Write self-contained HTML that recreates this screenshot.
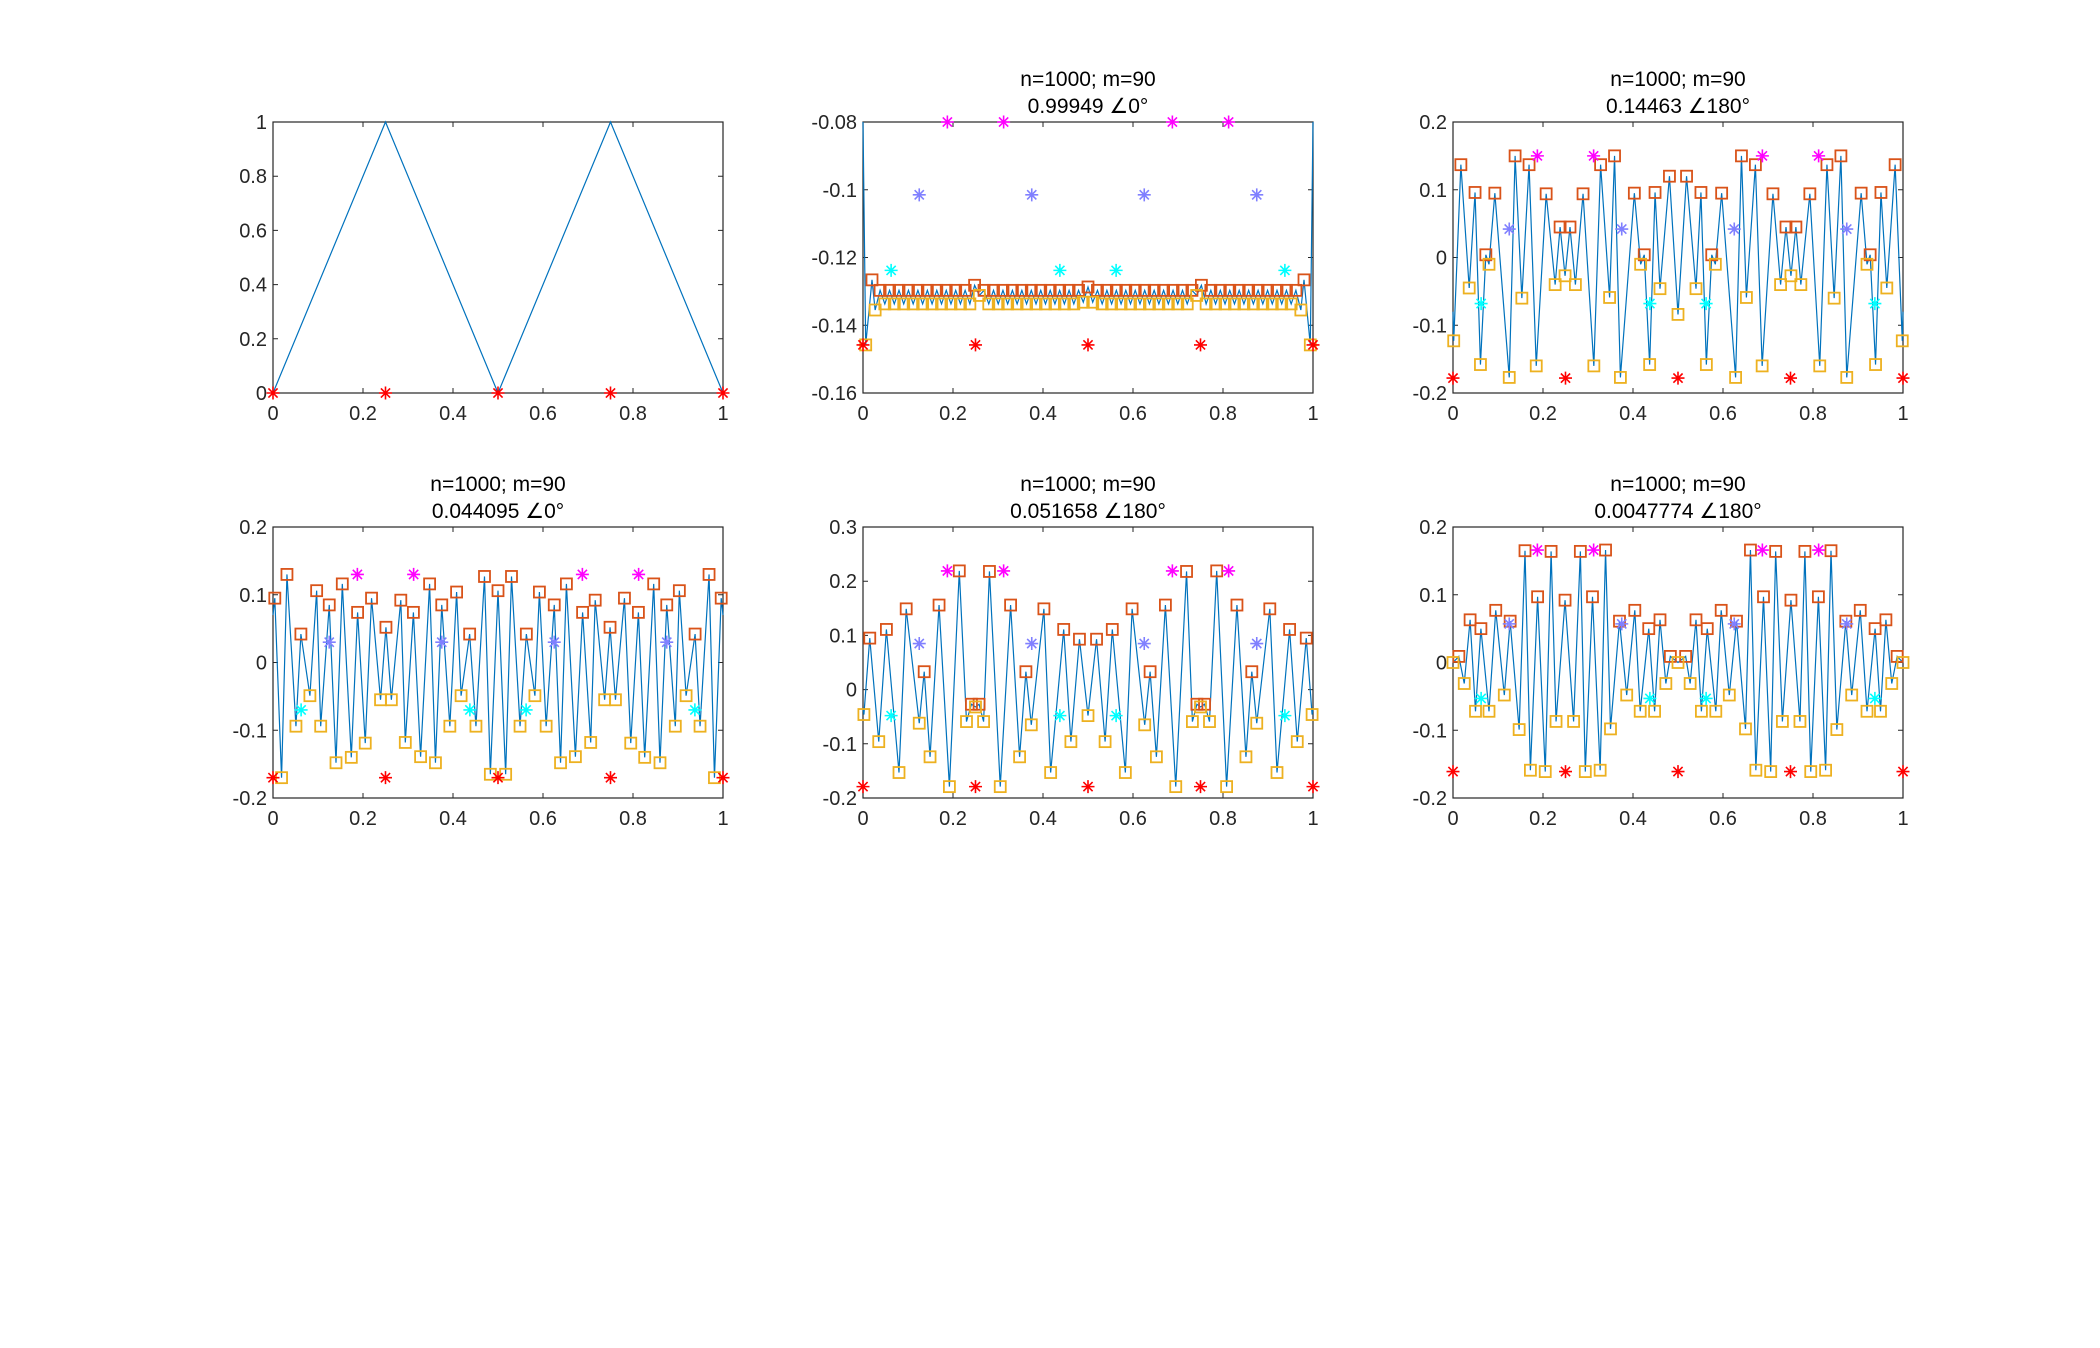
<!DOCTYPE html>
<html><head><meta charset="utf-8"><style>
html,body{margin:0;padding:0;background:#fff;}
svg{display:block;font-family:"Liberation Sans",Arial,sans-serif;}
</style></head><body>
<svg id="fig" width="2100" height="1348" viewBox="0 0 2100 1348" xmlns="http://www.w3.org/2000/svg">
<rect width="2100" height="1348" fill="#fff"/>
</svg>
<script>
// ---- shared star x positions ----
const redX=[0,0.25,0.5,0.75,1];
const magX=[0.1875,0.3125,0.6875,0.8125];
const bluX=[0.125,0.375,0.625,0.875];
const cyaX=[0.0625,0.4375,0.5625,0.9375];
const xTicks=[0,0.2,0.4,0.6,0.8,1];
const xTickLabels=["0","0.2","0.4","0.6","0.8","1"];

// ---- panel 1 ----
const p1LineX=[0,0.25,0.5,0.75,1];
const p1LineY=[0,1,0,1,0];
const p1RedY=0;
const p1YTicks=[0,0.2,0.4,0.6,0.8,1];
const p1YLabels=["0","0.2","0.4","0.6","0.8","1"];

// ---- panel 2 ----
const p2PeakX=[0.02,0.038,0.059,0.080,0.101,0.122,0.143,0.164,0.185,0.206,0.227,0.248,0.269,0.290,0.311,0.332,0.353,0.374,0.395,0.416,0.437,0.458,0.479,0.500,0.521,0.542,0.563,0.584,0.605,0.626,0.647,0.668,0.689,0.710,0.731,0.752,0.773,0.794,0.815,0.836,0.857,0.878,0.899,0.920,0.941,0.962,0.98];
const p2PeakY=[-0.1266,-0.1297,-0.1297,-0.1297,-0.1297,-0.1297,-0.1297,-0.1297,-0.1297,-0.1297,-0.1297,-0.1282,-0.1297,-0.1297,-0.1297,-0.1297,-0.1297,-0.1297,-0.1297,-0.1297,-0.1297,-0.1297,-0.1297,-0.1287,-0.1297,-0.1297,-0.1297,-0.1297,-0.1297,-0.1297,-0.1297,-0.1297,-0.1297,-0.1297,-0.1297,-0.1282,-0.1297,-0.1297,-0.1297,-0.1297,-0.1297,-0.1297,-0.1297,-0.1297,-0.1297,-0.1297,-0.1266];
const p2TroughX=[0.006,0.027,0.0485,0.0695,0.0905,0.1115,0.1325,0.1535,0.1745,0.1955,0.2165,0.2375,0.2585,0.2795,0.3005,0.3215,0.3425,0.3635,0.3845,0.4055,0.4265,0.4475,0.4685,0.4895,0.5105,0.5315,0.5525,0.5735,0.5945,0.6155,0.6365,0.6575,0.6785,0.6995,0.7205,0.7415,0.7625,0.7835,0.8045,0.8255,0.8465,0.8675,0.8885,0.9095,0.9305,0.9515,0.973,0.994];
const p2TroughY=[-0.1458,-0.1355,-0.1337,-0.1337,-0.1337,-0.1337,-0.1337,-0.1337,-0.1337,-0.1337,-0.1337,-0.1337,-0.1312,-0.1337,-0.1337,-0.1337,-0.1337,-0.1337,-0.1337,-0.1337,-0.1337,-0.1337,-0.1337,-0.1332,-0.1332,-0.1337,-0.1337,-0.1337,-0.1337,-0.1337,-0.1337,-0.1337,-0.1337,-0.1337,-0.1337,-0.1312,-0.1337,-0.1337,-0.1337,-0.1337,-0.1337,-0.1337,-0.1337,-0.1337,-0.1337,-0.1337,-0.1355,-0.1458];
const p2EndY=[-0.08,-0.08];
const p2Stars=[-0.1458,-0.08,-0.1015,-0.1238]; // red, magenta, blue, cyan
const p2YTicks=[-0.16,-0.14,-0.12,-0.1,-0.08];
const p2YLabels=["-0.16","-0.14","-0.12","-0.1","-0.08"];

// ---- panel 3 ----
const p3PeakX=[0.0175,0.049,0.073,0.093,0.138,0.169,0.207,0.238,0.26,0.289,0.328,0.359,0.403,0.425,0.449,0.481,0.519,0.551,0.575,0.597,0.641,0.672,0.711,0.74,0.762,0.793,0.831,0.862,0.907,0.927,0.951,0.9825];
const p3PeakY=[0.137,0.096,0.004,0.095,0.15,0.137,0.094,0.045,0.045,0.094,0.137,0.15,0.095,0.004,0.096,0.12,0.12,0.096,0.004,0.095,0.15,0.137,0.094,0.045,0.045,0.094,0.137,0.15,0.095,0.004,0.096,0.137];
const p3TroughX=[0.0016,0.036,0.061,0.08,0.125,0.153,0.185,0.227,0.249,0.272,0.313,0.348,0.372,0.417,0.437,0.46,0.5,0.54,0.563,0.583,0.628,0.652,0.687,0.728,0.751,0.773,0.815,0.847,0.875,0.92,0.939,0.964,0.9984];
const p3TroughY=[-0.123,-0.045,-0.158,-0.01,-0.177,-0.06,-0.16,-0.04,-0.027,-0.04,-0.16,-0.059,-0.177,-0.01,-0.158,-0.046,-0.084,-0.046,-0.158,-0.01,-0.177,-0.059,-0.16,-0.04,-0.027,-0.04,-0.16,-0.06,-0.177,-0.01,-0.158,-0.045,-0.123];
const p3EndY=[-0.08,-0.08];
const p3Stars=[-0.178,0.15,0.042,-0.068];
const p3YTicks=[-0.2,-0.1,0,0.1,0.2];
const p3YLabels=["-0.2","-0.1","0","0.1","0.2"];

// ---- panel 4 ----
const p4PeakX=[0.004,0.031,0.062,0.097,0.125,0.154,0.188,0.219,0.251,0.284,0.312,0.348,0.375,0.408,0.437,0.47,0.5,0.53,0.563,0.592,0.625,0.652,0.688,0.716,0.749,0.781,0.812,0.846,0.875,0.903,0.938,0.969,0.996];
const p4PeakY=[0.095,0.13,0.042,0.106,0.085,0.116,0.074,0.095,0.052,0.092,0.074,0.116,0.085,0.104,0.042,0.127,0.106,0.127,0.042,0.104,0.085,0.116,0.074,0.092,0.052,0.095,0.074,0.116,0.085,0.106,0.042,0.13,0.095];
const p4TroughX=[0.019,0.051,0.082,0.106,0.14,0.174,0.205,0.239,0.263,0.294,0.328,0.361,0.393,0.418,0.451,0.483,0.517,0.549,0.582,0.607,0.639,0.672,0.706,0.737,0.761,0.795,0.826,0.86,0.894,0.918,0.949,0.981];
const p4TroughY=[-0.17,-0.094,-0.049,-0.094,-0.148,-0.14,-0.119,-0.055,-0.055,-0.118,-0.139,-0.148,-0.094,-0.049,-0.094,-0.165,-0.165,-0.094,-0.049,-0.094,-0.148,-0.139,-0.118,-0.055,-0.055,-0.119,-0.14,-0.148,-0.094,-0.049,-0.094,-0.17];
const p4EndY=[0.07,0.07];
const p4Stars=[-0.17,0.13,0.03,-0.07];
const p4YTicks=[-0.2,-0.1,0,0.1,0.2];
const p4YLabels=["-0.2","-0.1","0","0.1","0.2"];

// ---- panel 5 ----
const p5PeakX=[0.015,0.052,0.096,0.136,0.169,0.214,0.241,0.258,0.281,0.328,0.362,0.402,0.446,0.481,0.519,0.554,0.598,0.638,0.672,0.719,0.742,0.759,0.786,0.831,0.864,0.904,0.948,0.985];
const p5PeakY=[0.095,0.111,0.149,0.033,0.156,0.219,-0.027,-0.027,0.218,0.156,0.033,0.149,0.111,0.093,0.093,0.111,0.149,0.033,0.156,0.218,-0.027,-0.027,0.219,0.156,0.033,0.149,0.111,0.095];
const p5TroughX=[0.002,0.035,0.08,0.125,0.149,0.192,0.23,0.25,0.268,0.305,0.348,0.374,0.417,0.462,0.5,0.538,0.583,0.626,0.652,0.695,0.732,0.75,0.77,0.808,0.851,0.875,0.92,0.965,0.998];
const p5TroughY=[-0.046,-0.096,-0.153,-0.062,-0.124,-0.179,-0.059,-0.032,-0.059,-0.179,-0.124,-0.065,-0.153,-0.096,-0.048,-0.096,-0.153,-0.065,-0.124,-0.179,-0.059,-0.032,-0.059,-0.179,-0.124,-0.062,-0.153,-0.096,-0.046];
const p5EndY=[-0.035,-0.035];
const p5Stars=[-0.179,0.219,0.085,-0.048];
const p5YTicks=[-0.2,-0.1,0,0.1,0.2,0.3];
const p5YLabels=["-0.2","-0.1","0","0.1","0.2","0.3"];

// ---- panel 6 ----
const p6PeakX=[0.013,0.038,0.062,0.095,0.127,0.16,0.188,0.218,0.249,0.283,0.31,0.339,0.37,0.404,0.435,0.46,0.483,0.517,0.54,0.565,0.596,0.63,0.661,0.69,0.717,0.751,0.782,0.812,0.84,0.873,0.905,0.938,0.962,0.987];
const p6PeakY=[0.009,0.063,0.05,0.077,0.061,0.165,0.097,0.164,0.092,0.164,0.097,0.166,0.061,0.077,0.05,0.063,0.009,0.009,0.063,0.05,0.077,0.061,0.166,0.097,0.164,0.092,0.164,0.097,0.165,0.061,0.077,0.05,0.063,0.009];
const p6TroughX=[0,0.025,0.05,0.08,0.114,0.147,0.172,0.205,0.229,0.268,0.294,0.327,0.35,0.386,0.416,0.448,0.473,0.5,0.527,0.552,0.584,0.614,0.65,0.673,0.706,0.732,0.771,0.795,0.828,0.853,0.886,0.92,0.95,0.975,1];
const p6TroughY=[0,-0.031,-0.072,-0.072,-0.048,-0.099,-0.159,-0.161,-0.087,-0.087,-0.161,-0.159,-0.098,-0.048,-0.072,-0.072,-0.031,0,-0.031,-0.072,-0.072,-0.048,-0.098,-0.159,-0.161,-0.087,-0.087,-0.161,-0.159,-0.099,-0.048,-0.072,-0.072,-0.031,0];
const p6EndY=[0,0];
const p6Stars=[-0.161,0.166,0.057,-0.053];
const p6YTicks=[-0.2,-0.1,0,0.1,0.2];
const p6YLabels=["-0.2","-0.1","0","0.1","0.2"];

const titleLine1="n=1000; m=90";
const p2Title="0.99949 \u22200\u00b0";
const p3Title="0.14463 \u2220180\u00b0";
const p4Title="0.044095 \u22200\u00b0";
const p5Title="0.051658 \u2220180\u00b0";
const p6Title="0.0047774 \u2220180\u00b0";

const NS="http://www.w3.org/2000/svg";
const svg=document.getElementById('fig');
function mk(tag,attrs,parent){const e=document.createElementNS(NS,tag);for(const k in attrs)e.setAttribute(k,attrs[k]);(parent||svg).appendChild(e);return e;}

function star(g,cx,cy,color){
  const r=6.5,d=r*0.7071;
  const p=mk('path',{d:`M${cx-r},${cy}H${cx+r}M${cx},${cy-r}V${cy+r}M${cx-d},${cy-d}L${cx+d},${cy+d}M${cx-d},${cy+d}L${cx+d},${cy-d}`,stroke:color,'stroke-width':1.6,fill:'none'},g);
  
  
}
function square(g,cx,cy,color,name){
  const s=mk('rect',{x:cx-5.5,y:cy-5.5,width:11,height:11,fill:'none',stroke:color,'stroke-width':1.8},g);
  
  
}

function panel(o){
  const L=o.left,T=o.top,W=450,H=271;
  const g=mk('g',{});
  
  
  const sx=v=>L+v*W;
  const sy=v=>T+H-(v-o.ymin)/(o.ymax-o.ymin)*H;
  // titles
  if(o.title){
    const t1=mk('text',{x:L+W/2,y:T-36,'text-anchor':'middle','font-size':21,fill:'#000'},g);
    t1.textContent=titleLine1;
    
    
    const t2=mk('text',{x:L+W/2,y:T-9,'text-anchor':'middle','font-size':21,fill:'#000'},g);
    t2.textContent=o.title;
    
    
  }
  // box
  const box=mk('rect',{x:L,y:T,width:W,height:H,fill:'#fff',stroke:'#262626','stroke-width':1.2},g);
  
  
  // x ticks
  xTicks.forEach((v,i)=>{
    const x=sx(v);
    mk('path',{d:`M${x},${T+H}v-5M${x},${T}v5`,stroke:'#262626','stroke-width':1},g);
    const t=mk('text',{x:x,y:T+H+27,'text-anchor':'middle','font-size':20,fill:'#262626'},g);
    t.textContent=xTickLabels[i];
    
    
  });
  o.yticks.forEach((v,i)=>{
    const y=sy(v);
    mk('path',{d:`M${L},${y}h5M${L+W},${y}h-5`,stroke:'#262626','stroke-width':1},g);
    const t=mk('text',{x:L-6,y:y+7,'text-anchor':'end','font-size':20,fill:'#262626'},g);
    t.textContent=o.ylabels[i];
    
    
  });
  // line
  let pts=[];
  if(o.lineX){pts=o.lineX.map((x,i)=>[x,o.lineY[i]]);}
  else{
    o.px.forEach((x,i)=>pts.push([x,o.py[i]]));
    o.tx.forEach((x,i)=>pts.push([x,o.ty[i]]));
    pts.sort((a,b)=>a[0]-b[0]);
    pts.unshift([0,o.endY[0]]);pts.push([1,o.endY[1]]);
  }
  const ln=mk('polyline',{points:pts.map(p=>sx(p[0])+','+sy(p[1])).join(' '),fill:'none',stroke:'#0072BD','stroke-width':1.2},g);
  
  
  if(o.px){
    o.px.forEach((x,i)=>square(g,sx(x),sy(o.py[i]),'#D95319','peak-square'));
    o.tx.forEach((x,i)=>square(g,sx(x),sy(o.ty[i]),'#EDB120','trough-square'));
  }
  // stars
  redX.forEach(x=>star(g,sx(x),sy(o.stars[0]),'#FF0000'));
  if(o.stars.length>1){
    magX.forEach(x=>star(g,sx(x),sy(o.stars[1]),'#FF00FF'));
    bluX.forEach(x=>star(g,sx(x),sy(o.stars[2]),'#8080FF'));
    cyaX.forEach(x=>star(g,sx(x),sy(o.stars[3]),'#00FFFF'));
  }
}

panel({name:'panel-triangle',left:273,top:122,ymin:0,ymax:1,yticks:p1YTicks,ylabels:p1YLabels,lineX:p1LineX,lineY:p1LineY,stars:[p1RedY]});
panel({name:'panel-2',left:863,top:122,ymin:-0.16,ymax:-0.08,yticks:p2YTicks,ylabels:p2YLabels,px:p2PeakX,py:p2PeakY,tx:p2TroughX,ty:p2TroughY,endY:p2EndY,stars:p2Stars,title:p2Title});
panel({name:'panel-3',left:1453,top:122,ymin:-0.2,ymax:0.2,yticks:p3YTicks,ylabels:p3YLabels,px:p3PeakX,py:p3PeakY,tx:p3TroughX,ty:p3TroughY,endY:p3EndY,stars:p3Stars,title:p3Title});
panel({name:'panel-4',left:273,top:527,ymin:-0.2,ymax:0.2,yticks:p4YTicks,ylabels:p4YLabels,px:p4PeakX,py:p4PeakY,tx:p4TroughX,ty:p4TroughY,endY:p4EndY,stars:p4Stars,title:p4Title});
panel({name:'panel-5',left:863,top:527,ymin:-0.2,ymax:0.3,yticks:p5YTicks,ylabels:p5YLabels,px:p5PeakX,py:p5PeakY,tx:p5TroughX,ty:p5TroughY,endY:p5EndY,stars:p5Stars,title:p5Title});
panel({name:'panel-6',left:1453,top:527,ymin:-0.2,ymax:0.2,yticks:p6YTicks,ylabels:p6YLabels,px:p6PeakX,py:p6PeakY,tx:p6TroughX,ty:p6TroughY,endY:p6EndY,stars:p6Stars,title:p6Title});
</script>
</body></html>
